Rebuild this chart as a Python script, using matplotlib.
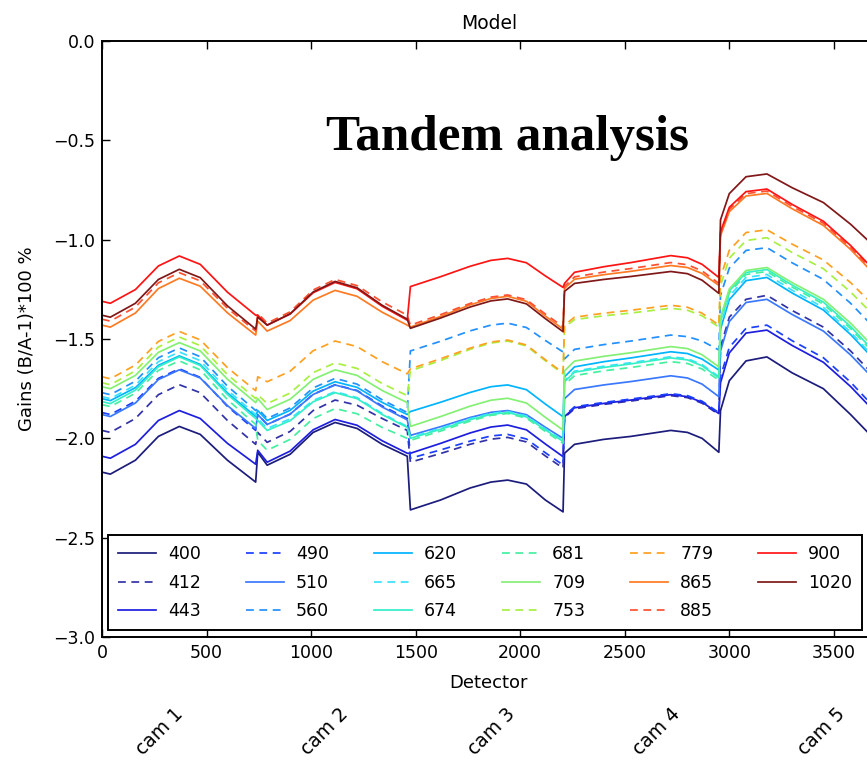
import matplotlib
matplotlib.use("Agg")
from matplotlib import pyplot as plt

# detector index of the sampled points (5 cameras, 8 samples each)
detector = [0, 40, 160, 270, 370, 470, 600, 735,
            745, 790, 900, 1010, 1115, 1220, 1340, 1460,
            1475, 1620, 1760, 1860, 1940, 2030, 2120, 2205,
            2212, 2260, 2400, 2530, 2720, 2800, 2870, 2950,
            2958, 3000, 3080, 3180, 3300, 3450, 3580, 3690]

#gains (B/A-1)*100 per band
g400 = [-2.17, -2.18, -2.11, -1.99, -1.94, -1.98, -2.11, -2.22,
        -2.07, -2.135, -2.08, -1.97, -1.92, -1.95, -2.03, -2.09,
        -2.36, -2.31, -2.25, -2.22, -2.21, -2.23, -2.31, -2.37,
        -2.075, -2.03, -2.005, -1.99, -1.96, -1.97, -2.0, -2.07,
        -1.86, -1.71, -1.61, -1.59, -1.67, -1.75, -1.88, -2.0]
g412 = [-1.96, -1.97, -1.90, -1.78, -1.73, -1.77, -1.91, -2.03,
        -1.97, -2.02, -1.965, -1.86, -1.807, -1.833, -1.90, -1.96,
        -2.12, -2.076, -2.03, -2.004, -1.995, -2.018, -2.088, -2.15,
        -1.895, -1.851, -1.829, -1.812, -1.785, -1.795, -1.823, -1.88,
        -1.54, -1.39, -1.30, -1.28, -1.356, -1.44, -1.56, -1.68]
g443 = [-2.09, -2.10, -2.03, -1.91, -1.86, -1.90, -2.025, -2.13,
        -2.06, -2.12, -2.064, -1.957, -1.905, -1.934, -2.012, -2.075,
        -2.075, -2.025, -1.973, -1.943, -1.933, -1.957, -2.028, -2.092,
        -1.89, -1.846, -1.824, -1.807, -1.78, -1.79, -1.818, -1.875,
        -1.72, -1.57, -1.47, -1.455, -1.532, -1.617, -1.739, -1.86]
g490 = [-1.87, -1.88, -1.813, -1.698, -1.65, -1.693, -1.839, -1.96,
        -1.88, -1.93, -1.878, -1.778, -1.73, -1.759, -1.837, -1.90,
        -2.10, -2.058, -2.014, -1.988, -1.98, -2.003, -2.072, -2.134,
        -1.885, -1.841, -1.819, -1.802, -1.775, -1.785, -1.813, -1.87,
        -1.69, -1.542, -1.446, -1.43, -1.508, -1.594, -1.717, -1.84]
g510 = [-1.88, -1.89, -1.822, -1.704, -1.655, -1.696, -1.835, -1.95,
        -1.88, -1.93, -1.878, -1.779, -1.731, -1.761, -1.842, -1.907,
        -1.985, -1.941, -1.895, -1.869, -1.86, -1.881, -1.944, -2.0,
        -1.80, -1.754, -1.731, -1.714, -1.685, -1.696, -1.727, -1.79,
        -1.56, -1.412, -1.316, -1.30, -1.376, -1.46, -1.58, -1.70]
g560 = [-1.77, -1.78, -1.712, -1.594, -1.545, -1.589, -1.737, -1.86,
        -1.85, -1.90, -1.847, -1.746, -1.698, -1.727, -1.806, -1.87,
        -1.56, -1.511, -1.459, -1.43, -1.42, -1.442, -1.507, -1.565,
        -1.60, -1.552, -1.528, -1.51, -1.48, -1.488, -1.51, -1.555,
        -1.28, -1.143, -1.054, -1.04, -1.116, -1.20, -1.32, -1.44]
g620 = [-1.80, -1.81, -1.745, -1.632, -1.585, -1.628, -1.771, -1.89,
        -1.86, -1.91, -1.859, -1.762, -1.715, -1.743, -1.819, -1.88,
        -1.865, -1.818, -1.769, -1.74, -1.731, -1.755, -1.827, -1.891,
        -1.69, -1.64, -1.614, -1.595, -1.564, -1.573, -1.601, -1.656,
        -1.45, -1.302, -1.206, -1.19, -1.268, -1.354, -1.477, -1.60]
g665 = [-1.79, -1.80, -1.732, -1.614, -1.565, -1.609, -1.757, -1.88,
        -1.90, -1.95, -1.902, -1.809, -1.765, -1.795, -1.875, -1.94,
        -1.995, -1.949, -1.901, -1.874, -1.865, -1.887, -1.952, -2.01,
        -1.71, -1.662, -1.637, -1.619, -1.589, -1.599, -1.629, -1.689,
        -1.43, -1.285, -1.19, -1.175, -1.254, -1.341, -1.465, -1.59]
g674 = [-1.815, -1.825, -1.757, -1.639, -1.59, -1.633, -1.779, -1.90,
        -1.91, -1.96, -1.911, -1.816, -1.77, -1.80, -1.88, -1.945,
        -2.0, -1.954, -1.906, -1.879, -1.87, -1.892, -1.957, -2.015,
        -1.715, -1.667, -1.643, -1.625, -1.595, -1.605, -1.635, -1.695,
        -1.40, -1.258, -1.165, -1.15, -1.228, -1.314, -1.437, -1.56]
g681 = [-1.83, -1.84, -1.773, -1.658, -1.61, -1.655, -1.805, -1.93,
        -2.01, -2.06, -2.005, -1.90, -1.85, -1.876, -1.945, -2.00,
        -2.01, -1.963, -1.913, -1.884, -1.875, -1.898, -1.965, -2.025,
        -1.73, -1.684, -1.66, -1.643, -1.614, -1.623, -1.651, -1.706,
        -1.41, -1.268, -1.175, -1.16, -1.238, -1.324, -1.447, -1.57]
g709 = [-1.74, -1.75, -1.683, -1.567, -1.518, -1.56, -1.702, -1.82,
        -1.80, -1.855, -1.803, -1.703, -1.655, -1.683, -1.759, -1.82,
        -1.94, -1.89, -1.838, -1.808, -1.798, -1.822, -1.894, -1.958,
        -1.66, -1.611, -1.587, -1.569, -1.538, -1.548, -1.579, -1.64,
        -1.39, -1.248, -1.155, -1.14, -1.216, -1.30, -1.42, -1.54]
g753 = [-1.72, -1.73, -1.66, -1.54, -1.49, -1.533, -1.679, -1.80,
        -1.78, -1.825, -1.772, -1.669, -1.62, -1.648, -1.724, -1.785,
        -1.66, -1.608, -1.552, -1.52, -1.51, -1.535, -1.609, -1.675,
        -1.44, -1.402, -1.383, -1.369, -1.345, -1.355, -1.383, -1.44,
        -1.23, -1.093, -1.004, -0.99, -1.064, -1.146, -1.263, -1.38]
g779 = [-1.69, -1.70, -1.631, -1.512, -1.462, -1.504, -1.644, -1.76,
        -1.69, -1.715, -1.662, -1.559, -1.51, -1.538, -1.614, -1.675,
        -1.65, -1.599, -1.546, -1.515, -1.505, -1.53, -1.604, -1.67,
        -1.43, -1.39, -1.37, -1.355, -1.33, -1.34, -1.37, -1.43,
        -1.19, -1.053, -0.964, -0.95, -1.022, -1.102, -1.216, -1.33]
g865 = [-1.43, -1.44, -1.369, -1.246, -1.194, -1.234, -1.368, -1.48,
        -1.41, -1.46, -1.407, -1.304, -1.255, -1.285, -1.365, -1.43,
        -1.44, -1.386, -1.328, -1.296, -1.285, -1.31, -1.384, -1.45,
        -1.245, -1.199, -1.176, -1.159, -1.13, -1.14, -1.17, -1.23,
        -0.98, -0.859, -0.78, -0.767, -0.844, -0.928, -1.049, -1.17]
g885 = [-1.40, -1.41, -1.339, -1.217, -1.166, -1.207, -1.345, -1.46,
        -1.37, -1.42, -1.363, -1.253, -1.20, -1.231, -1.313, -1.38,
        -1.43, -1.377, -1.321, -1.289, -1.278, -1.302, -1.374, -1.438,
        -1.235, -1.187, -1.163, -1.145, -1.115, -1.126, -1.157, -1.22,
        -0.97, -0.847, -0.768, -0.755, -0.832, -0.917, -1.039, -1.16]
g900 = [-1.31, -1.32, -1.251, -1.132, -1.082, -1.124, -1.264, -1.38,
        -1.38, -1.43, -1.374, -1.267, -1.215, -1.247, -1.335, -1.405,
        -1.236, -1.186, -1.134, -1.104, -1.094, -1.116, -1.182, -1.24,
        -1.22, -1.164, -1.136, -1.115, -1.08, -1.091, -1.124, -1.19,
        -0.96, -0.837, -0.758, -0.745, -0.822, -0.907, -1.029, -1.15]
g1020 = [-1.38, -1.39, -1.32, -1.20, -1.149, -1.191, -1.333, -1.45,
         -1.39, -1.43, -1.373, -1.263, -1.21, -1.242, -1.33, -1.40,
         -1.446, -1.394, -1.339, -1.308, -1.298, -1.323, -1.397, -1.463,
         -1.26, -1.22, -1.20, -1.185, -1.16, -1.171, -1.204, -1.27,
         -0.90, -0.768, -0.683, -0.669, -0.738, -0.813, -0.922, -1.03]

bands = ["400", "412", "443", "490", "510", "560", "620", "665", "674",
         "681", "709", "753", "779", "865", "885", "900", "1020"]
gains = [g400, g412, g443, g490, g510, g560, g620, g665, g674,
         g681, g709, g753, g779, g865, g885, g900, g1020]
cams = ["cam 1", "cam 2", "cam 3", "cam 4", "cam 5"]

colors = ["#1c1c7c", "#3232a8", "#1e1ede", "#1a40ff", "#3a78ff", "#2290ff",
          "#00b4ff", "#38e2ff", "#34f0c8", "#44f0a0", "#84f074", "#a8f040",
          "#ffa020", "#ff7a22", "#ff5030", "#ff1414", "#801818"]
dashed = [False, True, False, True, False, True, False, True, False,
          True, False, True, True, False, True, False, False]

plt.rcParams["font.family"] = "DejaVu Sans"
fig = plt.figure(figsize=(8.67, 7.63), dpi=100)
ax = fig.add_axes([0.1176, 0.1651, 0.8924, 0.7811])

for i in range(len(bands)):
    if dashed[i]:
        ax.plot(detector, gains[i], color=colors[i], lw=1.25, dashes=(4.5, 3.2), label=bands[i])
    else:
        ax.plot(detector, gains[i], color=colors[i], lw=1.25, label=bands[i])

ax.set_xlim(0, 3700)
ax.set_ylim(-3.0, 0.0)
ax.set_xticks([0, 500, 1000, 1500, 2000, 2500, 3000, 3500])
ax.set_yticks([0.0, -0.5, -1.0, -1.5, -2.0, -2.5, -3.0])
ax.set_yticklabels(["0.0", "\u22120.5", "\u22121.0", "\u22121.5", "\u22122.0", "\u22122.5", "\u22123.0"])
ax.tick_params(direction="in", top=True, right=True, length=6, width=1, labelsize=12.5, pad=5)
for s in ax.spines.values():
    s.set_linewidth(1.4)

ax.set_title("Model", fontsize=13.5, pad=9)
ax.set_xlabel("Detector", fontsize=13, labelpad=9)
ax.set_ylabel("Gains (B/A-1)*100 %", fontsize=13, labelpad=12)

leg = ax.legend(ncol=6, loc="lower left", bbox_to_anchor=(0.0078, 0.0117, 0.9745, 0.155),
                mode="expand", borderaxespad=0, fontsize=12.5, handlelength=2.2,
                handletextpad=0.7, labelspacing=0.61, borderpad=0.56,
                fancybox=False, framealpha=1)
leg.get_frame().set_edgecolor("black")
leg.get_frame().set_linewidth(1.4)

fig.text(326 / 867, 1 - 150 / 763, "Tandem analysis", family="Liberation Serif",
         fontweight="bold", fontsize=36.8, ha="left", va="baseline")

cam_x = [160, 325, 492, 657, 822]
for i in range(len(cams)):
    fig.text(cam_x[i] / 867, 1 - 732 / 763, cams[i], rotation=45, fontsize=13.5,
             ha="center", va="center")

fig.savefig("out.png", dpi=100)
